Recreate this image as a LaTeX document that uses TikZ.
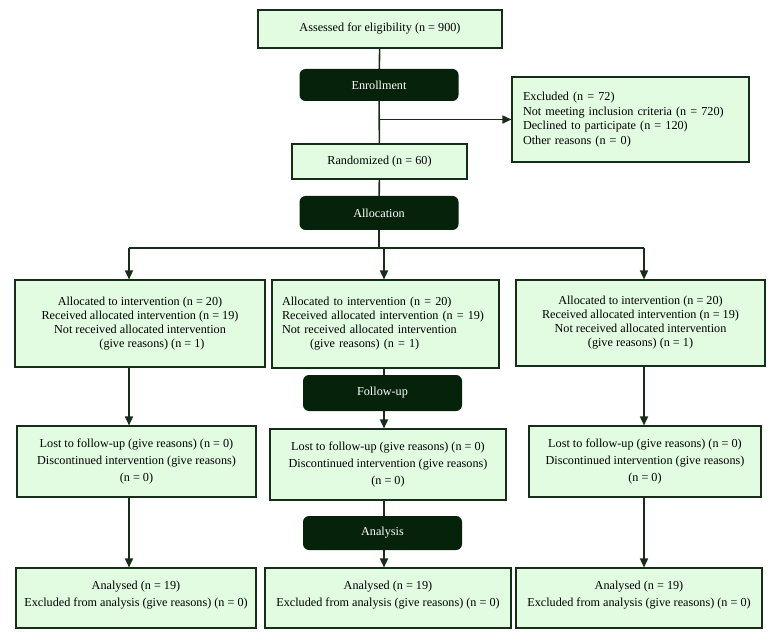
\documentclass[tikz,border=0pt]{standalone}
\usepackage{fontspec}
\setmainfont{Liberation Serif}
\usepackage{xcolor}
\usepackage{tikz}
\usetikzlibrary{arrows.meta}
\definecolor{consortfill}{RGB}{226, 252, 226}
\definecolor{consortdark}{RGB}{6, 34, 10}
\definecolor{consortline}{RGB}{24, 44, 26}

\begin{document}
\begin{tikzpicture}[x=1pt, y=-1pt,
        infobox/.style={draw=consortline, fill=consortfill, line width=1.1pt, inner sep=0pt,
                        align=center, font=\fontsize{12.2}{14}\selectfont},
        stagebox/.style={fill=consortdark, rounded corners=6pt, text=white, inner sep=0pt,
                         minimum width=159pt, font=\fontsize{12.2}{14}\selectfont},
        link/.style={draw=consortline, line width=1.6pt},
        arrowlink/.style={link, -{Triangle[width=8pt, length=9pt]}}]
    \useasboundingbox (0,0) rectangle (776,636);

    % top part
    \node[infobox, minimum width=244pt, minimum height=38pt] (assessed) at (380,29)
        {Assessed for eligibility (n = 900)};
    \node[stagebox, minimum height=32pt] (enroll) at (379,85) {Enrollment};
    \node[infobox, minimum width=237pt, minimum height=85pt, text width=215pt, align=left,
          font=\fontsize{12.2}{14.7}\selectfont] (excluded) at (630.5,119.5)
        {Excluded (n = 72)\\ Not meeting inclusion criteria (n = 720)\\
         Declined to participate (n = 120)\\ Other reasons (n = 0)};
    \node[infobox, minimum width=175pt, minimum height=35pt] (random) at (379.5,161.5)
        {Randomized (n = 60)};
    \node[stagebox, minimum height=34pt] (alloc) at (379,213) {Allocation};

    \coordinate (split) at (379,248);
    \coordinate (colA) at (129,0);
    \coordinate (colB) at (384,0);
    \coordinate (colC) at (644,0);

    % allocation row
    \node[infobox, minimum width=250pt, minimum height=87pt] (allocA) at (140,323.5)
        {Allocated to intervention (n = 20)\\ Received allocated intervention (n = 19)\\
         Not received allocated intervention\\ \hspace*{24pt}(give reasons) (n = 1)};
    \node[infobox, minimum width=227pt, minimum height=88pt, text width=207pt, align=left]
        (allocB) at (385.5,324)
        {Allocated to intervention (n = 20)\\ Received allocated intervention (n = 19)\\
         Not received allocated intervention\\ \hspace*{28pt}(give reasons) (n = 1)};
    \node[infobox, minimum width=249pt, minimum height=86pt] (allocC) at (640.5,323)
        {Allocated to intervention (n = 20)\\ Received allocated intervention (n = 19)\\
         Not received allocated intervention\\ (give reasons) (n = 1)};

    \node[stagebox, minimum height=36pt] (followup) at (382.5,393) {Follow-up};

    % follow-up row
    \foreach \col/\cx/\cy/\bw in {A/136.5/461.5/239, B/388/464.5/236, C/645/461.5/232}{
        \node[infobox, minimum width=\bw pt, minimum height=71pt,
              font=\fontsize{12.2}{17}\selectfont] (lost\col) at (\cx,\cy)
            {Lost to follow-up (give reasons) (n = 0)\\
             Discontinued intervention (give reasons)\\ (n = 0)};
    }

    \node[stagebox, minimum height=34pt] (analysis) at (382.5,533) {Analysis};

    % analysis row
    \foreach \col/\cx/\bw in {A/136/240, B/388/246, C/639/246}{
        \node[infobox, minimum width=\bw pt, minimum height=60pt,
              font=\fontsize{12.2}{17}\selectfont] (analysed\col) at (\cx,598)
            {Analysed (n = 19)\\ Excluded from analysis (give reasons) (n = 0)\\[-9pt]};
    }

    % connectors
    \draw[link] (assessed) -- (enroll);
    \draw[link] (enroll) -- (random);
    \draw[arrowlink] (enroll.south |- excluded.west) -- (excluded.west);
    \draw[link] (random) -- (alloc);
    \draw[link] (alloc) -- (split);
    \draw[link] (split -| colA) -- (split -| colC);
    \draw[arrowlink] (split -| colA) -- (allocA.north -| colA);
    \draw[arrowlink] (split -| colB) -- (allocB.north -| colB);
    \draw[arrowlink] (split -| colC) -- (allocC.north -| colC);

    \draw[arrowlink] (allocA.south -| colA) -- (lostA.north -| colA);
    \draw[link] (allocB.south -| colB) -- (followup.north -| colB);
    \draw[arrowlink] (followup.south -| colB) -- (lostB.north -| colB);
    \draw[arrowlink] (allocC.south -| colC) -- (lostC.north -| colC);

    \draw[arrowlink] (lostA.south -| colA) -- (analysedA.north -| colA);
    \draw[link] (lostB.south -| colB) -- (analysis.north -| colB);
    \draw[arrowlink] (analysis.south -| colB) -- (analysedB.north -| colB);
    \draw[arrowlink] (lostC.south -| colC) -- (analysedC.north -| colC);
\end{tikzpicture}
\end{document}
